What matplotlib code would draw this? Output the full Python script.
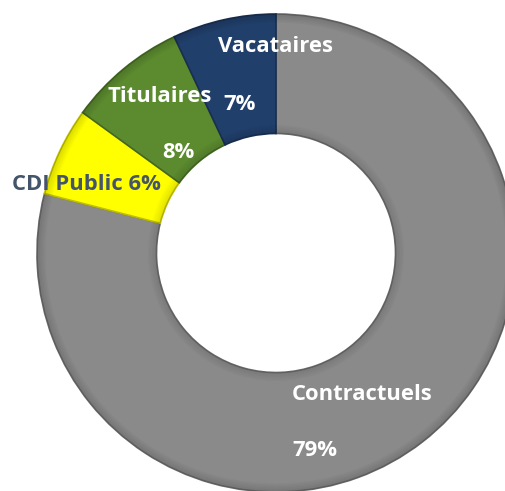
import matplotlib.pyplot as plt
from matplotlib.colors import to_rgb

# data, clockwise from 12 o'clock
categories = ['Contractuels', 'CDI Public', 'Titulaires', 'Vacataires']
shares = [79, 6, 8, 7]
colors = ['#8a8a8a', '#ffff00', '#5b8a2f', '#213f6b']


def darker(c, f=0.6):
    r, g, b = to_rgb(c)
    return (r * f, g * f, b * f)


fig = plt.figure(figsize=(5.05, 4.91), dpi=100)
# donut centre at (276, 253) px, outer radius 239 px -> right side runs off the figure
cx, cy, R = 276, 253, 239
ax = fig.add_axes([(cx - R) / 505, (491 - cy - R) / 491, 2 * R / 505, 2 * R / 491])

wedges, _ = ax.pie(shares, colors=colors, startangle=90, counterclock=False,
                   radius=1, wedgeprops=dict(width=0.5, linewidth=1.2))
for w, c in zip(wedges, colors):
    w.set_edgecolor(darker(c, 0.75))

# soft bevel: fading dark bands along the outer and inner edges
steps = 6
for k in range(steps):
    a = 0.14 * (1 - k / steps)
    ax.pie(shares, colors=[(0, 0, 0, a)] * len(shares), startangle=90,
           counterclock=False, radius=1 - k * 0.006,
           wedgeprops=dict(width=0.006, linewidth=0))
    ax.pie(shares, colors=[(0, 0, 0, a * 0.8)] * len(shares), startangle=90,
           counterclock=False, radius=0.506 + k * 0.006,
           wedgeprops=dict(width=0.006, linewidth=0))

ax.set_xlim(-1, 1)
ax.set_ylim(-1, 1)
ax.set_aspect('equal')
ax.axis('off')


def px(x, y):
    return (x - cx) / R, (cy - y) / R


font = dict(family=['Open Sans', 'DejaVu Sans'], fontweight='bold', fontsize=15.8)
labels = [
    ('Vacataires', 275, 47, 'center', 'white'),
    ('7%', 240, 104, 'center', 'white'),
    ('Titulaires', 160, 96, 'center', 'white'),
    ('8%', 178, 153, 'center', 'white'),
    ('CDI Public 6%', 86, 184, 'center', '#44546a'),
    ('Contractuels', 292, 395, 'left', 'white'),
    ('79%', 292, 451, 'left', 'white'),
]
for txt, x, y, ha, col in labels:
    ax.text(*px(x, y), txt, ha=ha, va='center', color=col, **font)

fig.savefig('out.png', dpi=100)
